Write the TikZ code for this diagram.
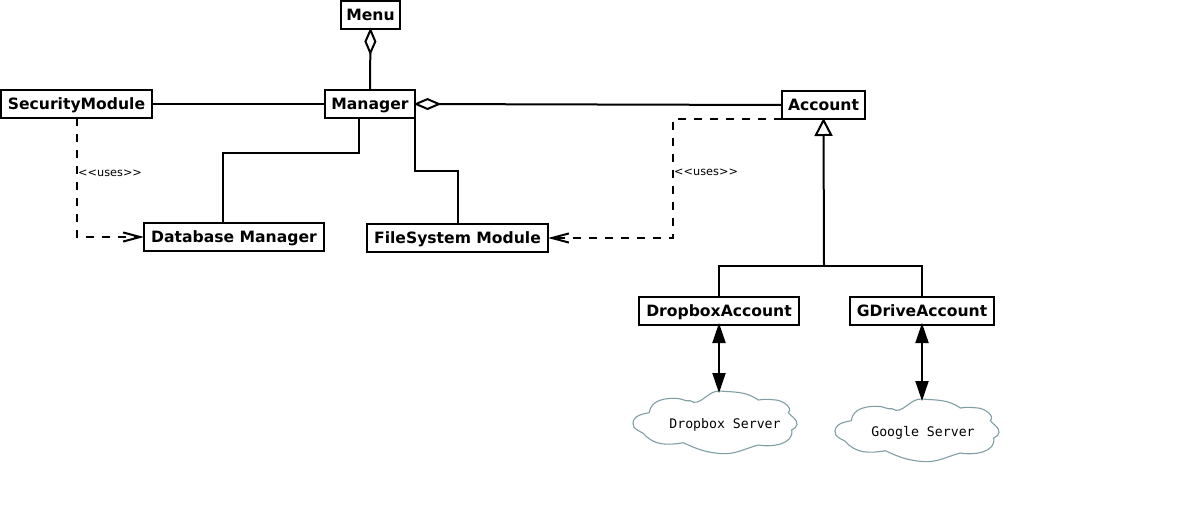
\documentclass[tikz,border=0pt]{standalone}
\usepackage{fontspec}
\setmainfont{DejaVu Sans}
\newfontfamily\monofam{DejaVu Sans Mono}
\usetikzlibrary{arrows.meta}
\definecolor{cloudline}{HTML}{7F9FA5}
\tikzset{
  x=1pt,y=-1pt,
  cls/.style={draw=black,fill=white,line width=2pt,inner sep=0pt,outer sep=0pt,minimum height=28pt,text height=12.5pt,text depth=2.5pt,font=\fontsize{15.6}{15.6}\selectfont\bfseries},
  conn/.style={line width=2pt,draw=black},
  dep/.style={conn,dash pattern=on 8pt off 8pt},
  agg/.style={conn,shorten <=-1.5pt,{Diamond[open,fill=white,length=28pt,width=12pt,line width=2pt]}-},
  inh/.style={conn,shorten >=-1pt,-{Triangle[open,fill=white,length=18pt,width=18pt,line width=2pt]}},
  open tip/.style={-{Straight Barb[length=17pt,width=13pt,line width=2pt,angle'=30]}},
  both/.style={conn,shorten <=-2pt,shorten >=-2pt,{Triangle[length=20pt,width=13pt]}-{Triangle[length=20pt,width=13pt]}},
  uselabel/.style={inner sep=0pt,font=\fontsize{11.3}{11.3}\selectfont},
  srv/.style={inner sep=0pt,outer sep=0pt,minimum width=164pt,minimum height=63pt,text height=13pt,text depth=1pt,font=\monofam\fontsize{13.2}{13.2}\selectfont},
  pics/servercloud/.style={code={
    \draw[cloudline,line width=1.1pt,fill=white]
      (-65.7,-9.8) to[out=85,in=175] (-37,-24) to[out=-5,in=-170] (-25,-21.8)
      to[out=-35,in=175] (5,-31.5) to[out=-5,in=145] (43.3,-22.5)
      to[out=10,in=175] (61,-22.5) to[out=-5,in=45] (73.3,-9.8)
      to[out=-50,in=90] (82,2) to[out=-90,in=35] (76.7,7.5)
      to[out=-80,in=-10] (43.3,22.5) to[out=-170,in=-10] (43.3,22.5)
      to[out=-165,in=-5] (5,31) to[out=175,in=-25] (-31.7,20.2)
      to[out=-170,in=-50] (-71.7,10.8) to[out=150,in=-90] (-82,1)
      to[out=90,in=190] (-65.7,-9.8);
  }}
}
\begin{document}
\begin{tikzpicture}
\useasboundingbox[fill=white] (0,0) rectangle (1183,517);

% clouds
\path (715,422.5) pic {servercloud};
\path (917,430.5) pic {servercloud};

% classes
\node[cls,minimum width=59pt] (menu) at (370.5,15) {Menu};
\node[cls,minimum width=90pt] (manager) at (370,104) {Manager};
\node[cls,minimum width=151pt] (security) at (76.5,104) {SecurityModule};
\node[cls,minimum width=83pt] (account) at (823.5,105) {Account};
\node[cls,minimum width=180pt] (database) at (234,237) {Database Manager};
\node[cls,minimum width=181pt] (filesystem) at (457.5,238) {FileSystem Module};
\node[cls,minimum width=160pt] (dropbox) at (719,311) {DropboxAccount};
\node[cls,minimum width=144pt] (gdrive) at (922,311) {GDriveAccount};

% server labels
\node[srv] (dropboxsrv) at (715,422.5) {\hspace*{20pt}Dropbox Server};
\node[srv] (googlesrv) at (917,430.5) {\hspace*{12pt}Google Server};

% helper points
\coordinate (dbbend) at (223,153);
\coordinate (fsbend) at (458,171);
\coordinate (acbend) at (673,119);
\coordinate (junction) at (824,266);

% connectors
\draw[agg] (menu.south) -- (manager.north);
\draw[agg] (manager.east) -- (account.west);
\draw[conn] (security.east) -- (manager.west);
\draw[conn] ([xshift=34pt]manager.south west) |- (dbbend) -- (dbbend |- database.north);
\draw[conn] (manager.south east) |- (fsbend) -- (fsbend |- filesystem.north);
\draw[dep,open tip] (security.south) |- (database.west);
\draw[dep,open tip] (account.south west) -- (acbend) |- (filesystem.east);
\draw[inh] (junction) -- (account.south);
\draw[conn] (dropbox.north) |- (junction);
\draw[conn] (gdrive.north) |- (junction);
\draw[both] (dropbox.south) -- (dropbox.south |- dropboxsrv.north);
\draw[both] (gdrive.south) -- (gdrive.south |- googlesrv.north);

% labels
\node[uselabel,anchor=west] (uses1) at (78,173.5) {{<}{<}uses{>}{>}};
\node[uselabel,anchor=west] (uses2) at (674,172) {{<}{<}uses{>}{>}};
\end{tikzpicture}
\end{document}
